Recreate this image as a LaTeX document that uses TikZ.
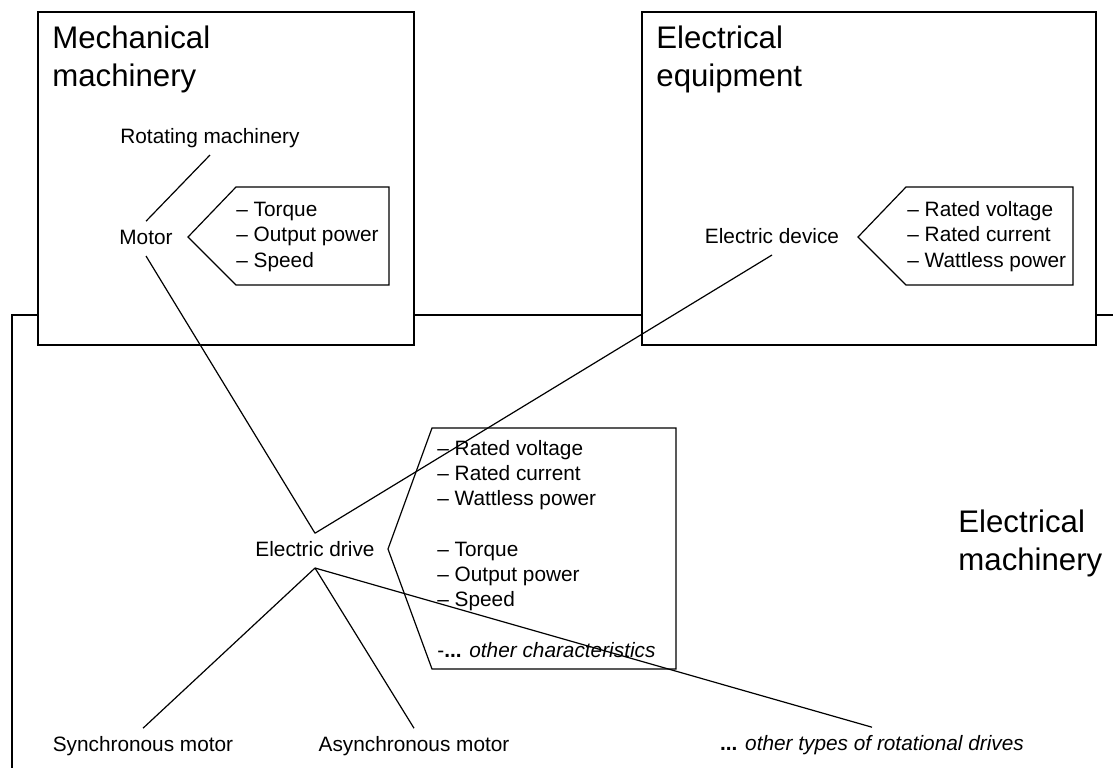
\documentclass[tikz,border=0pt]{standalone}
\usepackage{fontspec}
\setmainfont{Liberation Sans}
\tikzset{
  frame/.style={draw, line width=1.2pt},
  title/.style={font=\fontsize{15.6}{19}\selectfont, align=left, inner sep=0pt, anchor=base west},
  lbl/.style={font=\fontsize{10.4}{12.6}\selectfont, text height=7.6pt, text depth=2.2pt,
    inner xsep=2pt, inner ysep=3.6pt, anchor=base},
  list/.style={font=\fontsize{10.4}{12.6}\selectfont, align=left, inner sep=0pt, anchor=base west},
  callout/.style={draw, line width=0.6pt},
  link/.style={draw, line width=0.6pt}
}

\begin{document}
\begin{tikzpicture}[x=0.5pt, y=-0.5pt]
  \useasboundingbox (0,0) rectangle (1113,767);
  % outer frame, cut by the page edge
  \begin{scope}
    \clip (0,0) rectangle (1113,767);
    \draw[frame] (12,315) rectangle (1140,800);
  \end{scope}
  \draw[frame, fill=white] (38,12) rectangle (414,345);
  \draw[frame, fill=white] (642,12) rectangle (1096,345);

  % base = last line
  \node[title] (mech) at (52,86) {Mechanical\\machinery};
  \node[title] (equip) at (656,86) {Electrical\\equipment};
  \node[title] (elmach) at (958,570) {Electrical\\machinery};

  % pointed lists
  \draw[callout] (188,237) -- (236,187) -- (389,187) -- (389,285) -- (236,285) -- cycle;
  \draw[callout] (858,237) -- (906,187) -- (1073,187) -- (1073,285) -- (906,285) -- cycle;
  \draw[callout] (388,549) -- (432,428) -- (676,428) -- (676,669) -- (432,669) -- cycle;

  \node[list] (motorlist) at (236,267) {– Torque\\– Output power\\– Speed};
  \node[list] (devlist) at (907,267) {– Rated voltage\\– Rated current\\– Wattless power};
  \node[list] (drivelist) at (437,657)
    {– Rated voltage\\– Rated current\\– Wattless power\\[12.6pt]%
     – Torque\\– Output power\\– Speed\\[12.6pt]%
     -\textbf{...} \textit{other characteristics}};

  \node[lbl] (rotmach) at (210,143) {Rotating machinery};
  \node[lbl] (motor) at (146,244) {Motor};
  \node[lbl] (device) at (772,243) {Electric device};
  \node[lbl] (drive) at (315,556) {Electric drive};
  \node[lbl] (sync) at (143,751) {Synchronous motor};
  \node[lbl] (async) at (414,751) {Asynchronous motor};
  \node[lbl] (others) at (872,750) {\textbf{...} \textit{other types of rotational drives}};

  \draw[link] (motor.north) -- (rotmach.south);
  \draw[link] (motor.south) -- (drive.north);
  \draw[link] (device.south) -- (drive.north);
  \draw[link] (drive.south) -- (sync.north);
  \draw[link] (drive.south) -- (async.north);
  \draw[link] (drive.south) -- (others.north);
\end{tikzpicture}
\end{document}
